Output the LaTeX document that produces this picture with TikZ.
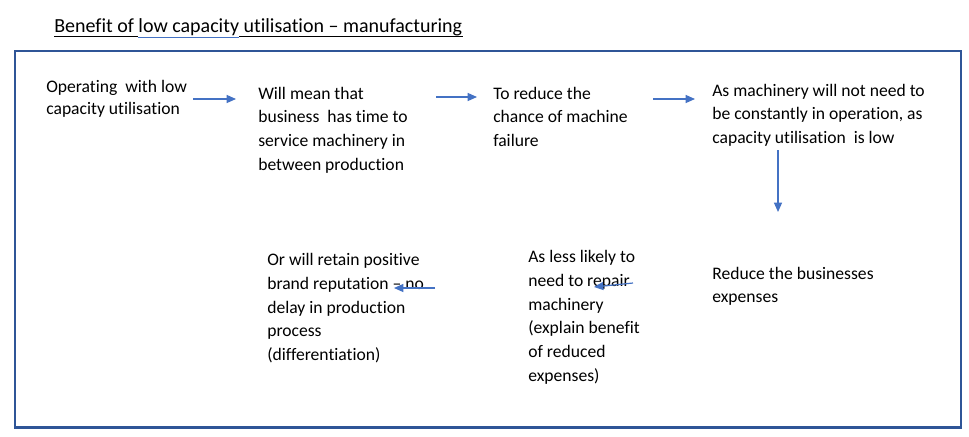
\documentclass[tikz,border=0pt]{standalone}
\usepackage{fontspec}
\setmainfont{Carlito}[Ligatures=NoCommon,RawFeature=-liga]
\usetikzlibrary{arrows.meta}
\definecolor{frameblue}{HTML}{2F5597}
\definecolor{arrowblue}{HTML}{4472C4}
\newcommand\fst{\rule{0pt}{12pt}}
\begin{document}
\begin{tikzpicture}[x=0.75pt,y=-0.75pt,
  txt/.style={anchor=north west, inner sep=0pt, align=left, font=\fontsize{13.2}{17.75}\selectfont},
  txtA/.style={txt, font=\fontsize{13.2}{16.2}\selectfont},
  arr/.style={draw=arrowblue, line width=0.9pt, -{Triangle[length=7pt,width=6pt]}},
  frame/.style={draw=frameblue, line width=1.6pt},
]
\useasboundingbox (0,0) rectangle (969,436);
\fill[white] (0,0) rectangle (969,436);
\draw[frame] (15,51) rectangle (961,427.5);

% title
\node (title) [anchor=base west, inner sep=0pt, font=\fontsize{15}{17}\selectfont] at (54,32)
  {Benefit of low capacity utilisation – manufacturing};
\draw[black, line width=0.8pt] (54,36.5) -- (138,36.5);
\draw[black, line width=0.8pt] (239,36.5) -- (463,36.5);
\draw[arrowblue, line width=0.8pt] (138,37.5) -- (239,37.5);

% texts
\node (t1) [txtA] at (46,76.5) {\fst Operating\ \ with low\\capacity utilisation};
\node (t2) [txt] at (258,83) {\fst Will mean that\\business\ \ has time to\\service machinery in\\between production};
\node (t3) [txt] at (493,83) {\fst To reduce the\\chance of machine\\failure};
\node (t4) [txt] at (712,80) {\fst As machinery will not need to\\be constantly in operation, as\\capacity utilisation\ \ is low};
\node (t5) [txt] at (712,263) {\fst Reduce the businesses\\expenses};
\node (t6) [txt] at (528,246.5) {\fst As less likely to\\need to repair\\machinery\\(explain benefit\\of reduced\\expenses)};
\node (t7) [txt] at (267,249.5) {\fst Or will retain positive\\brand reputation – no\\delay in production\\process\\(differentiation)};

% arrow end points
\coordinate (a1s) at (193,99);  \coordinate (a1e) at (236,99);
\coordinate (a2s) at (436,97);  \coordinate (a2e) at (477,97);
\coordinate (a3s) at (653,99);  \coordinate (a3e) at (695,99);
\coordinate (a4s) at (778,150); \coordinate (a4e) at (778,212);
\coordinate (a5s) at (633,283); \coordinate (a5e) at (594,287);
\coordinate (a6s) at (435,288); \coordinate (a6e) at (394,288);

\draw[arr] (a1s) -- (a1e);
\draw[arr] (a2s) -- (a2e);
\draw[arr] (a3s) -- (a3e);
\draw[arr] (a4s) -- (a4e);
\draw[arr] (a5s) -- (a5e);
\draw[arr] (a6s) -- (a6e);
\end{tikzpicture}
\end{document}
